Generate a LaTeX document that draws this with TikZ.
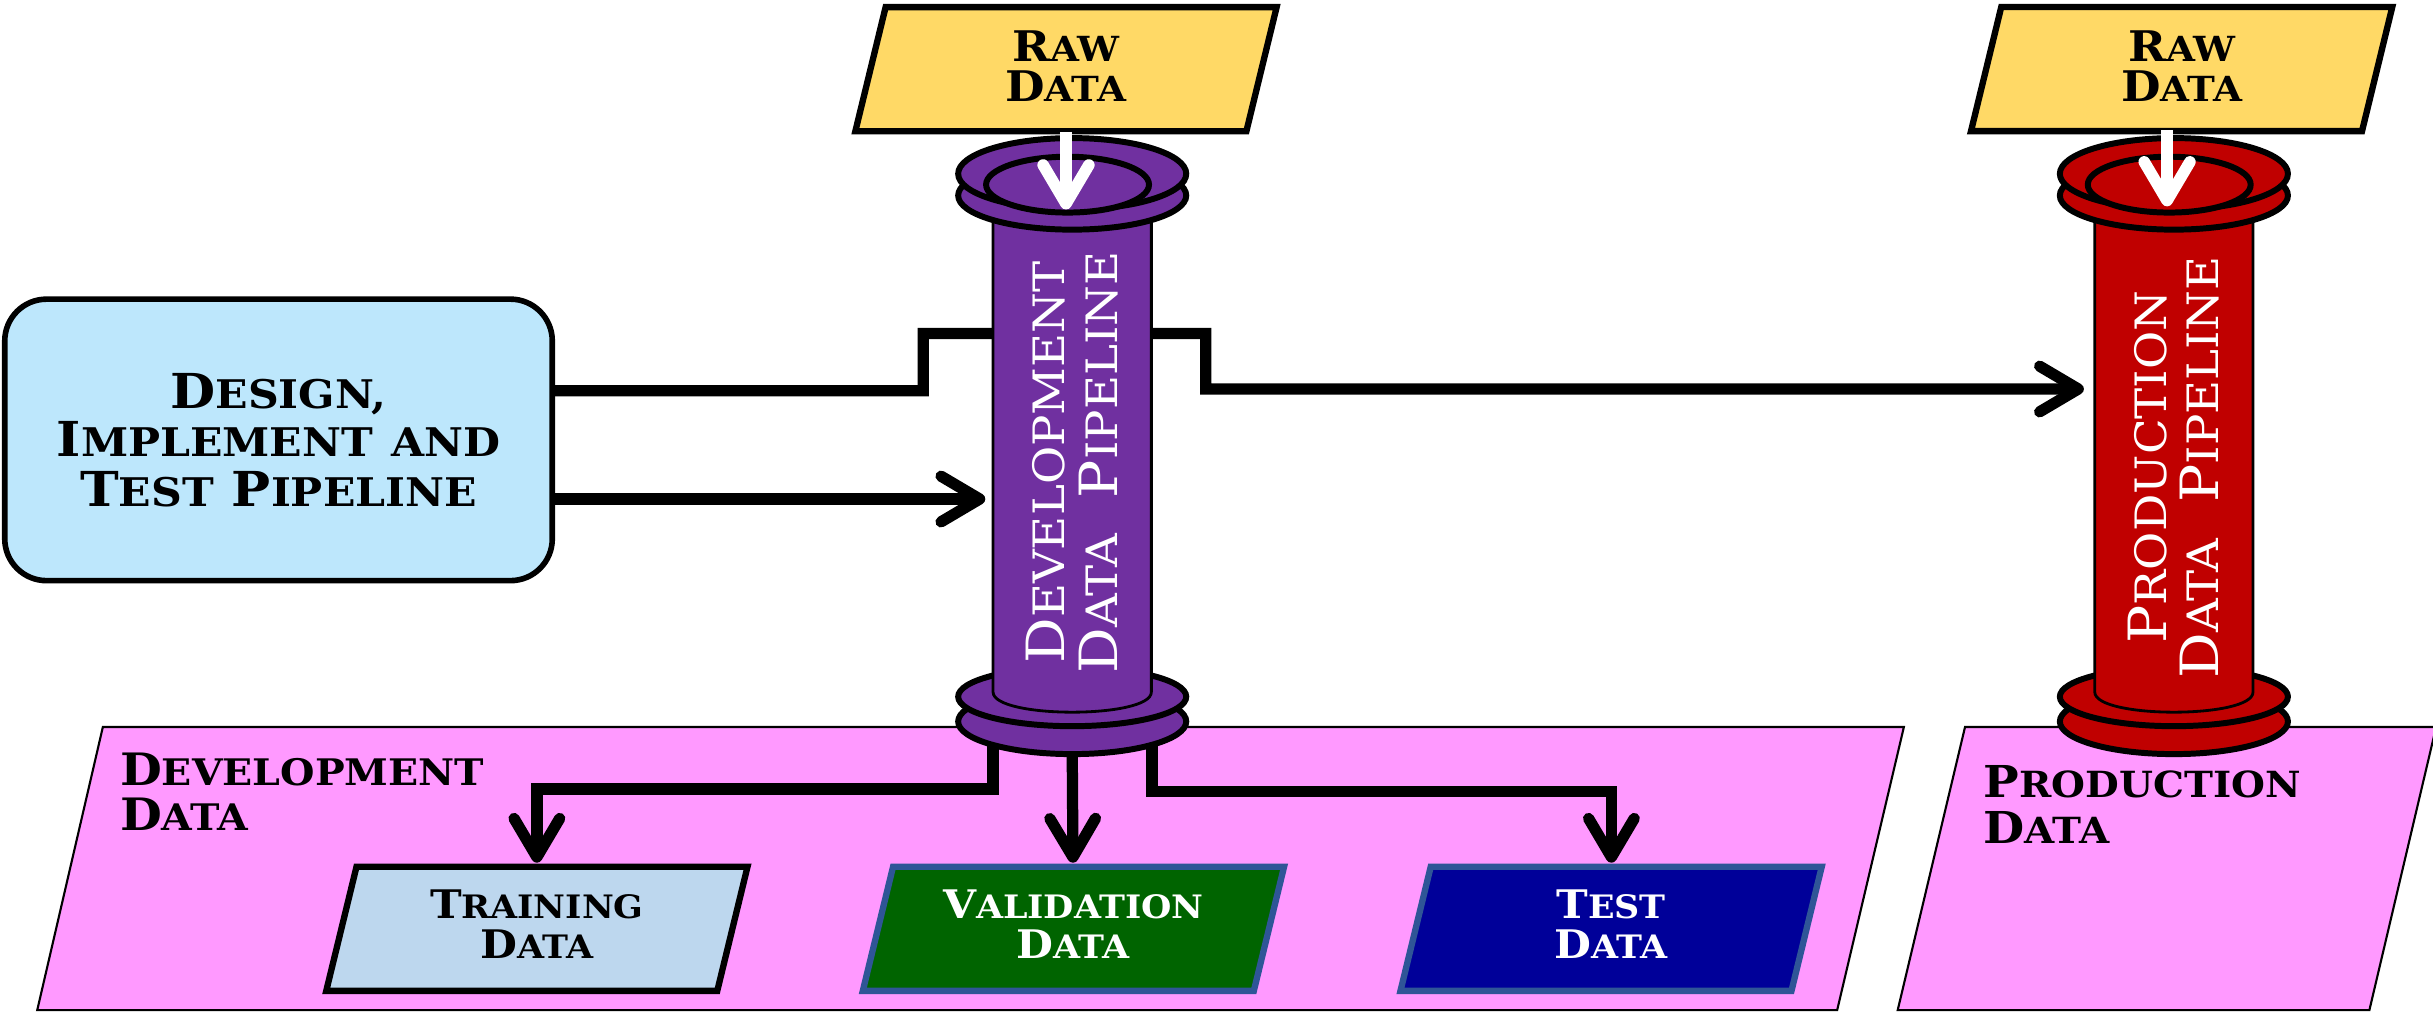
\documentclass[tikz,border=0pt]{standalone}
\usepackage{fontspec}
\setmainfont{DejaVu Serif}[FakeStretch=1.08]
\newfontfamily\cpsm{DejaVu Serif}[Scale=0.82, FakeStretch=1.08]
\usetikzlibrary{arrows.meta,calc}

\definecolor{designfill}{RGB}{189,231,252}
\definecolor{rawfill}{RGB}{255,217,102}
\definecolor{devpurple}{RGB}{112,48,160}
\definecolor{prodred}{RGB}{192,0,0}
\definecolor{pinkzone}{RGB}{255,153,255}
\definecolor{trainfill}{RGB}{189,215,238}
\definecolor{valfill}{RGB}{0,100,0}
\definecolor{testfill}{RGB}{0,0,153}
\definecolor{darkedge}{RGB}{47,85,151}

% engraved-style small capitals: first letter full size, the rest smaller
\def\smcx#1#2\relax{#1{\cpsm\uppercase{#2}}}
\newcommand\smc[1]{\smcx#1\relax}

% slanted data box centred on (#1,#2)
\newcommand\databox[4]{%
  \draw[fill=#3, draw=#4, line width=1.8pt, line join=miter]
    (#1-116.25,#2-40) -- (#1+135.75,#2-40) -- (#1+116.25,#2+40) -- (#1-135.75,#2+40) -- cycle;}

% pipeline column centred on x=#1
\newcommand\pipecolumn[2]{%
  \draw[fill=#2, line width=1.7pt] (#1,465) ellipse [x radius=73.5, y radius=21];
  \draw[fill=#2, line width=1.7pt] (#1,449) ellipse [x radius=73.5, y radius=19];
  \draw[fill=#2, line width=0.8pt]
    (#1-51,120) -- (#1-51,446) .. controls (#1-51,463.3) and (#1+51,463.3) .. (#1+51,446)
    -- (#1+51,120) -- cycle;
  \draw[fill=#2, line width=1.7pt] (#1,126) ellipse [x radius=73.5, y radius=22];
  \draw[fill=#2, line width=1.7pt] (#1,112) ellipse [x radius=73.5, y radius=23];
  \draw[fill=#2, line width=1.7pt] (#1-3,119) ellipse [x radius=52.5, y radius=18];}

\tikzset{
  conn/.style={line width=3.2pt, draw=black, line join=miter,
    -{Straight Barb[length=11pt, width=13pt, round]}},
  wconn/.style={line width=3.3pt, draw=white,
    -{Straight Barb[length=11pt, width=13pt, round]}},
  zone/.style={fill=pinkzone, draw=black, line width=0.6pt},
  label/.style={inner sep=0pt, font=\bfseries, align=center},
  pipetext/.style={inner sep=0pt, text=white, align=center, rotate=90,
    font=\fontsize{15}{14.9}\selectfont},
}

\begin{document}
\begin{tikzpicture}[x=0.015517cm, y=-0.015517cm]
  \path[use as bounding box, fill=white] (0,0) rectangle (1568,655);

  % data zones
  \draw[zone] (66.3,468.5) -- (1227,468.5) -- (1184,651) -- (24,651) -- cycle;
  \draw[zone] (1266.4,468.5) -- (1570,468.5) -- (1527,651) -- (1223,651) -- cycle;
  \node[label, anchor=north west, align=left, font=\bfseries\fontsize{12.7}{12.9}\selectfont]
    (devdatalbl) at (77,484.5) {\smc{Development}\\\smc{Data}};
  \node[label, anchor=north west, align=left, font=\bfseries\fontsize{12.5}{13}\selectfont]
    (proddatalbl) at (1278,493) {\smc{Production}\\\smc{Data}};

  % design box
  \node[draw=black, fill=designfill, line width=1.6pt, rounded corners=11.9pt,
        minimum width=155.8pt, minimum height=80.1pt, inner sep=0pt, outer sep=0pt,
        align=center, font=\bfseries\fontsize{13.7}{14.2}\selectfont]
    (design) at (179.5,283.5) {\smc{Design,}\\[-0.6pt]\smc{Implement} {\cpsm AND}\\\smc{Test} \smc{Pipeline}};

  % named ends of the connectors
  \coordinate (prodin) at (1343,250.7);
  \coordinate (devin) at (635,321.6);
  \coordinate (devBL) at (640,470);
  \coordinate (devBM) at (691,482);
  \coordinate (devBR) at (742.5,470);
  \coordinate (trainTop) at (346,556);
  \coordinate (valTop) at (691.5,556);
  \coordinate (testTop) at (1038.5,556);
  \coordinate (rawdevbot) at (687,85);
  \coordinate (devmouth) at (687,135);
  \coordinate (rawprodbot) at (1396.6,84);
  \coordinate (prodmouth) at (1396.6,133);

  % design -> production pipeline (passes behind the development column)
  \draw[conn] ($(design.east)+(0,-31.7)$) -- (595,251.8) -- (595,215) -- (777,215)
    -- (777,250.7) -- (prodin);

  % development pipeline outputs
  \draw[conn] (devBL) -- ++(0,38.5) -| (trainTop);
  \draw[conn] (devBM) -- (valTop);
  \draw[conn] (devBR) -- ++(0,40) -| (testTop);

  % pipeline columns
  \pipecolumn{691}{devpurple}
  \pipecolumn{1401}{prodred}
  \node[pipetext] (devtxt) at (691,298) {\smc{Development}\\\smc{Data}\ \ \smc{Pipeline}};
  \node[pipetext] (prodtxt) at (1401,301) {\smc{Production}\\\smc{Data}\ \ \smc{Pipeline}};

  % raw data inputs
  \databox{687}{44.6}{rawfill}{black}
  \databox{1406}{44.5}{rawfill}{black}
  \node[label, font=\bfseries\fontsize{12}{11.4}\selectfont] (rawdev) at (687,42.5) {\smc{Raw}\\\smc{Data}};
  \node[label, font=\bfseries\fontsize{12}{11.4}\selectfont] (rawprod) at (1406,42.5) {\smc{Raw}\\\smc{Data}};
  \draw[wconn] (rawdevbot) -- (devmouth);
  \draw[wconn] (rawprodbot) -- (prodmouth);

  % design -> development pipeline
  \draw[conn] ($(design.east)+(0,38.1)$) -- (devin);

  % split data sets
  \databox{346}{598.6}{trainfill}{black}
  \databox{691.8}{598.6}{valfill}{darkedge}
  \databox{1038.3}{598.6}{testfill}{darkedge}
  \node[label, font=\bfseries\fontsize{11.2}{11.4}\selectfont] (train) at (346,595.4) {\smc{Training}\\\smc{Data}};
  \node[label, text=white, font=\bfseries\fontsize{11.2}{11.4}\selectfont] (valid) at (691.8,595.4) {\smc{Validation}\\\smc{Data}};
  \node[label, text=white, font=\bfseries\fontsize{11.2}{11.4}\selectfont] (test) at (1038.3,595.4) {\smc{Test}\\\smc{Data}};
\end{tikzpicture}
\end{document}
